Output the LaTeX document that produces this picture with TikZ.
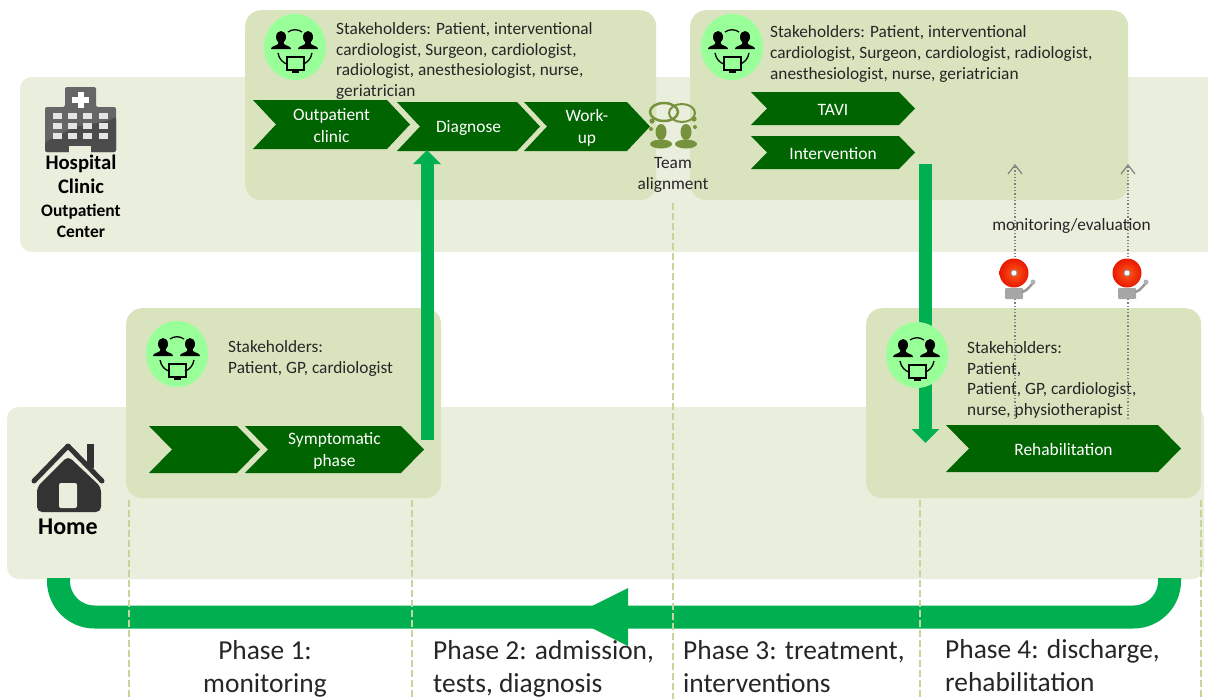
\documentclass[tikz,border=0pt]{standalone}
\usepackage{fontspec}
\setmainfont{Carlito}
\usetikzlibrary{arrows.meta}
\definecolor{bandcol}{HTML}{EAEEDD}
\definecolor{panelcol}{HTML}{D9E4BF}
\definecolor{chevcol}{HTML}{006400}
\definecolor{flowcol}{HTML}{00B050}
\definecolor{circcol}{HTML}{99FF99}
\definecolor{dashcol}{HTML}{C3D69B}
\definecolor{teamcol}{HTML}{76923C}
\definecolor{textcol}{HTML}{262626}
\definecolor{bellin}{HTML}{FF5A1E}
\definecolor{bellout}{HTML}{E81800}
\tikzset{
	panel/.style={fill=panelcol,rounded corners=16,anchor=north west,inner sep=0},
	stake/.style={text=textcol,font=\fontsize{17.3}{20.8}\selectfont,align=left,anchor=north west,inner sep=0},
	chevtext/.style={text=white,font=\fontsize{17.4}{22}\selectfont,align=center,inner sep=0,yshift=-1.5pt},
	place/.style={text=black,font=\bfseries\fontsize{20.7}{24}\selectfont,align=center,inner sep=0},
	subplace/.style={text=black,font=\bfseries\fontsize{17.5}{21}\selectfont,align=center,inner sep=0},
	phase/.style={text=textcol,font=\fontsize{27.4}{32.5}\selectfont,align=left,anchor=north west,inner sep=0},
	flow/.style={flowcol,line width=13,-{Triangle[width=27,length=14]}},
	watch/.style={gray,line width=1.3,dotted,-{Straight Barb[length=9,width=14,line width=1.2]}},
	phaseline/.style={dashcol,line width=2,dash pattern=on 7pt off 3pt},
	stakeicon/.pic={
		\fill[circcol] (0,0) ellipse [x radius=31,y radius=33];
		\foreach \s in {-14,13}{
			\fill[black] (\s,-10) ellipse [x radius=5,y radius=6];
			\fill[black] (\s-2.5,-6) -- (\s+2.5,-6) -- (\s+3,-3) .. controls (\s+5,-1) and (\s+10,-1) .. (\s+10,2) -- (\s-10,2) .. controls (\s-10,-1) and (\s-5,-1) .. (\s-3,-3) -- cycle;
		}
		\draw[black,line width=1.3] (-7,-15) .. controls (-3,-18) and (3,-18) .. (7,-15);
		\draw[black,line width=1.3] (-17,6) .. controls (-16,12) and (-12,16) .. (-8,17);
		\draw[black,line width=1.3] (17,6) .. controls (16,12) and (12,16) .. (8,17);
		\draw[black,line width=1.8] (-8,10) rectangle (9,23);
		\fill[black] (-3,24) rectangle (4,25.5);
	},
	hospital/.pic={
		\fill[black!60,rounded corners=2] (-35,27) -- (-35,-18) -- (-15,-18) -- (-15,-38) -- (16,-38) -- (16,-18) -- (36,-18) -- (36,27) -- cycle;
		\fill[black!70,rounded corners=2] (-35,27) -- (-35,17) -- (-5,2) -- (28,-4) -- (36,-8) -- (36,27) -- cycle;
		\fill[bandcol] (-11,27.5) rectangle (11,21);
		\foreach \x in {-27,-12,3,19}
			\foreach \y in {-12,-2,8}
				\fill[white!90!black] (\x,\y) rectangle +(9,6);
		\fill[white] (-2.5,-33) rectangle (3.5,-17);
		\fill[white] (-8,-28) rectangle (9,-22);
	},
	house/.pic={
		\fill[black!80] (19,-38) rectangle (26,-14);
		\fill[bandcol] (0,-30) -- (-38,6) -- (38,6) -- cycle;
		\draw[black!80,line width=5,line cap=round,line join=round] (-34,-1) -- (0,-36) -- (34,-1);
		\fill[black!80,rounded corners=5] (0,-26) -- (33,5) -- (33,30) -- (-31,30) -- (-31,5) -- cycle;
		\fill[bandcol,rounded corners=2] (-9,1) rectangle (9,26);
	},
	bell/.pic={
		\fill[black!35,rounded corners=1] (-9,15) rectangle (9,26);
		\draw[black!40,line width=2.5] (8,19) .. controls (13,18) and (15,14) .. (19,10);
		\fill[black!30] (19,9) circle (2.5);
		\shade[inner color=bellin,outer color=bellout] (0,0) circle (14.5);
		\fill[black!40] (0,0) circle (3.5);
		\fill[white] (0,0) circle (2.4);
	},
	teamicon/.pic={
		\draw[teamcol,line width=2.5] (-9,-16) ellipse [x radius=14,y radius=9];
		\draw[teamcol,line width=2] (9,-15) ellipse [x radius=13,y radius=9];
		\foreach \x in {-12,13}{
			\fill[teamcol] (\x,4) ellipse [x radius=5.5,y radius=8];
			\fill[teamcol] (\x,16) ellipse [x radius=11,y radius=4.5];
		}
		\foreach \x/\y/\r in {-21/-7/2.6,21/-9/2.6,-22/1/2,22/-1/2}
			\fill[teamcol] (\x,\y) circle (\r);
	}
}
\begin{document}
\begin{tikzpicture}[x=1pt,y=-1pt]
			\useasboundingbox (0,0) rectangle (1208,699);
			% Bands
			\fill[bandcol,rounded corners=12] (20,77) rectangle (1230,252);
			\fill[bandcol,rounded corners=12] (7,407) rectangle (1204,579);
			\node (hospitalLab) [place] at (81,174) {Hospital\\Clinic};
			\node (centerLab) [subplace] at (81,220.5) {Outpatient\\Center};
			\node (homeLab) [place,font=\bfseries\fontsize{24}{24}\selectfont] at (68,527) {Home};
			\pic (hospitalIcon) at (80,125) {hospital};
			\pic (homeIcon) at (68,482) {house};
			% Return arrow
			\coordinate (returnStart) at (1169.5,578);
			\coordinate (returnEnd) at (58.5,578);
			\draw[flowcol,line width=23,rounded corners=36] (returnStart) -- (1169.5,617) -- (58.5,617) -- (returnEnd);
			\fill[flowcol] (628,588) -- (628,646) -- (570,617) -- cycle;
			% Phase borders
			\foreach \x/\y in {129/500,412/500,673/203,920/500,1201/500}
			\draw[phaseline] (\x,\y) -- (\x,699);
			% Panels
			\foreach \n/\xa/\ya/\w/\h in {panelDiag/245/10/411/190,panelTreat/690/10/438/190,panelHome/126/308/315/190,panelRehab/866/308/335/190}
			\node (\n) [panel,minimum width=\w,minimum height=\h] at (\xa,\ya) {};
			% Stakeholders
			\node (stakeDiag) [stake] at (336,22) {Stakeholders: Patient, interventional\\cardiologist, Surgeon, cardiologist,\\radiologist, anesthesiologist, nurse,\\geriatrician};
			\node (stakeTreat) [stake] at (770,25.5) {Stakeholders: Patient, interventional\\cardiologist, Surgeon, cardiologist, radiologist,\\anesthesiologist, nurse, geriatrician};
			\node (stakeHome) [stake] at (228,340.5) {Stakeholders:\\Patient, GP, cardiologist};
			\node (stakeRehab) [stake] at (967,341) {Stakeholders:\\Patient,\\Patient, GP, cardiologist,\\nurse, physiotherapist};
			% Chevrons
			\foreach \n/\xa/\xb/\ya/\yb/\d/\lab in {
				chevClinic/253/410/100/149/23/{Outpatient\\clinic},
				chevDiag/397/540/102/151/23/Diagnose,
				chevWork/524/650/102/151/23/{Work-\\up},
				chevTavi/751/915/92/125/16/TAVI,
				chevInter/751/915/136/169/16/Intervention,
				chevBlank/149/260/426/473/23/{},
				chevSympt/245/424/426/473/23/{Symptomatic\\phase},
				chevRehab/946/1181/425/472/23/Rehabilitation}{
			\fill[chevcol] (\xa,\ya) -- (\xb-\d,\ya) -- (\xb,{(\ya+\yb)/2}) -- (\xb-\d,\yb) -- (\xa,\yb) -- (\xa+\d,{(\ya+\yb)/2}) -- cycle;
			\node (\n) [chevtext] at ({(\xa+\xb)/2},{(\ya+\yb)/2}) {\lab};
			}
			% Flow arrows
			\coordinate (symptOut) at (427,440);
			\coordinate (diagIn) at (427,150);
			\coordinate (interOut) at (925.5,164);
			\coordinate (rehabIn) at (925.5,443);
			\draw[flow] (symptOut) -- (diagIn);
			\draw[flow] (interOut) -- (rehabIn);
			% Stakeholder icons
			\foreach \n/\x/\y in {iconDiag/295/47,iconTreat/732/47,iconHome/177/354,iconRehab/917/355}
			\pic (\n) at (\x,\y) {stakeicon};
			% Team
			\pic (teamIcon) at (673,128) {teamicon};
			\node (teamLab) [stake,anchor=north,align=center] at (673,157.5) {Team\\alignment};
			% Monitoring
			\foreach \n/\x in {A/1015,B/1128}{
			\coordinate (watchLow\n) at (\x,419);
			\coordinate (watchTop\n) at (\x,164);
			\draw[watch] (watchLow\n) -- (watchTop\n);
			\pic (bell\n) at (\x-1,273) {bell};
			}
			\node (watchLab) [stake,anchor=center] at (1071.5,226) {monitoring/evaluation};
			% Phases
			\node (phaseA) [phase,align=center,anchor=north] at (265,640.5) {Phase 1:\\monitoring};
			\node (phaseB) [phase] at (433,640.5) {Phase 2: admission,\\tests, diagnosis};
			\node (phaseC) [phase] at (683,640.5) {Phase 3: treatment,\\interventions};
			\node (phaseD) [phase] at (945,639.5) {Phase 4: discharge,\\rehabilitation};
		\end{tikzpicture}
\end{document}
